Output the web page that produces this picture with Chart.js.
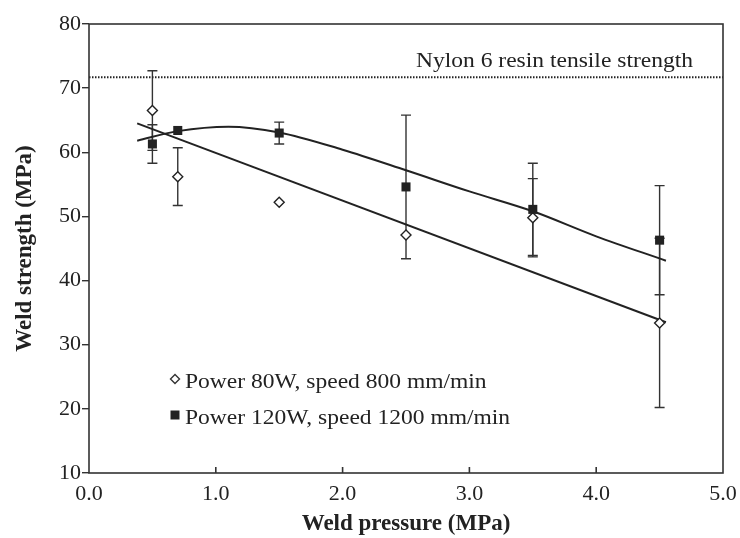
<!DOCTYPE html>
<html>
<head>
<meta charset="utf-8">
<script src="https://cdn.jsdelivr.net/npm/chart.js@4.4.0/dist/chart.umd.min.js"></script>
<style>
  html, body { margin: 0; padding: 0; background: #fff; }
  #wrap { width: 740px; height: 538px; }
</style>
</head>
<body>
<div id="wrap"><canvas id="weldChart" width="740" height="538"></canvas></div>
<script>
// data
const pressure = [0.5, 0.7, 1.5, 2.5, 3.5, 4.5];
const strength80 = [66.5, 56.2, 52.2, 47.1, 49.8, 33.4];
const err80 = [6.2, 4.5, 0, 0, 6.1, 13.2];
const strength120 = [61.3, 63.4, 63.0, 54.6, 51.1, 46.3];
const err120 = [3.0, 0, 1.7, 11.2, 7.2, 8.5];

// fitted trend lines
const fit80X = [0.38, 4.55];
const fit80Y = [64.5, 33.5];
const fit120X = [0.38, 0.7, 1.1, 1.5, 2.0, 2.5, 3.0, 3.5, 4.0, 4.55];
const fit120Y = [61.8, 63.3, 64.0, 63.1, 60.4, 57.2, 53.9, 50.8, 46.9, 43.1];

const nylonX = [0, 5];
const nylonStrength = 71.7;

const legendLabels = ['Power 80W, speed 800 mm/min', 'Power 120W, speed 1200 mm/min'];
const nylonLabel = 'Nylon 6 resin tensile strength';

const xTicks = [0, 1, 2, 3, 4, 5];
const yTicks = [10, 20, 30, 40, 50, 60, 70, 80];

const ink = '#222';
const serif = "'Liberation Serif', 'Times New Roman', serif";

function toPoints(xs, ys) {
    return xs.map((x, i) => ({ x: x, y: ys[i] }));
}

// slightly wide serif text, like the printed figure
function wideText(ctx, text, x, y, align) {
    ctx.save();
    ctx.translate(x, y);
    ctx.scale(1.12, 1);
    ctx.textAlign = align;
    ctx.fillText(text, 0, 0);
    ctx.restore();
}

// error bars, frame, inner x ticks, label text and legend
const extrasPlugin = {
    id: 'extras',
    beforeDatasetsDraw(chart) {
        const ctx = chart.ctx;
        const xs = chart.scales.x, ys = chart.scales.y;
        ctx.save();
        ctx.strokeStyle = '#333';
        ctx.lineWidth = 1.4;
        const drawBars = (vals, errs) => {
            vals.forEach((v, i) => {
                if (!errs[i]) return;
                const px = xs.getPixelForValue(pressure[i]);
                const top = ys.getPixelForValue(v + errs[i]);
                const bot = ys.getPixelForValue(v - errs[i]);
                ctx.beginPath();
                ctx.moveTo(px, top); ctx.lineTo(px, bot);
                ctx.moveTo(px - 5, top); ctx.lineTo(px + 5, top);
                ctx.moveTo(px - 5, bot); ctx.lineTo(px + 5, bot);
                ctx.stroke();
            });
        };
        drawBars(strength80, err80);
        drawBars(strength120, err120);
        ctx.restore();
    },
    afterDraw(chart) {
        const ctx = chart.ctx;
        const a = chart.chartArea;
        const xs = chart.scales.x;
        ctx.save();
        ctx.strokeStyle = '#333';
        ctx.lineWidth = 1.6;
        ctx.strokeRect(a.left, a.top, a.right - a.left, a.bottom - a.top);
        ctx.beginPath();
        xTicks.slice(1, -1).forEach(t => {
            const px = xs.getPixelForValue(t);
            ctx.moveTo(px, a.bottom);
            ctx.lineTo(px, a.bottom - 6);
        });
        ctx.stroke();

        ctx.fillStyle = ink;
        ctx.font = '21px ' + serif;
        ctx.textBaseline = 'alphabetic';
        wideText(ctx, nylonLabel, 693, 67, 'right');

        // legend
        const lx = 175, ly = [379, 415];
        ctx.lineWidth = 1.4;
        ctx.fillStyle = '#fff';
        ctx.beginPath();
        ctx.moveTo(lx, ly[0] - 4.5); ctx.lineTo(lx + 4.5, ly[0]);
        ctx.lineTo(lx, ly[0] + 4.5); ctx.lineTo(lx - 4.5, ly[0]);
        ctx.closePath();
        ctx.fill(); ctx.stroke();
        ctx.fillStyle = ink;
        ctx.fillRect(lx - 4.5, ly[1] - 4.5, 9, 9);
        wideText(ctx, legendLabels[0], lx + 10, ly[0] + 9, 'left');
        wideText(ctx, legendLabels[1], lx + 10, ly[1] + 9, 'left');
        ctx.restore();
    }
};

function renderChart() {
    const ctx = document.getElementById('weldChart').getContext('2d');
    new Chart(ctx, {
        type: 'scatter',
        data: {
            datasets: [
                {
                    label: 'nylon',
                    data: toPoints(nylonX, nylonX.map(() => nylonStrength)),
                    showLine: true,
                    borderColor: ink,
                    borderWidth: 2,
                    borderDash: [1.5, 1.5],
                    pointRadius: 0,
                    order: 5
                },
                {
                    label: 'fit 80W',
                    data: toPoints(fit80X, fit80Y),
                    showLine: true,
                    borderColor: ink,
                    borderWidth: 2,
                    pointRadius: 0,
                    order: 4
                },
                {
                    label: 'fit 120W',
                    data: toPoints(fit120X, fit120Y),
                    showLine: true,
                    borderColor: ink,
                    borderWidth: 2,
                    pointRadius: 0,
                    cubicInterpolationMode: 'monotone',
                    order: 3
                },
                {
                    label: legendLabels[0],
                    data: toPoints(pressure, strength80),
                    pointStyle: 'rectRot',
                    pointRadius: 5,
                    backgroundColor: '#fff',
                    borderColor: ink,
                    borderWidth: 1.4,
                    order: 2
                },
                {
                    label: legendLabels[1],
                    data: toPoints(pressure, strength120),
                    pointStyle: 'rect',
                    pointRadius: 6.4,
                    backgroundColor: ink,
                    borderColor: ink,
                    borderWidth: 0,
                    order: 1
                }
            ]
        },
        options: {
            responsive: false,
            animation: false,
            layout: { padding: { top: 24, right: 17, left: 0, bottom: 0 } },
            scales: {
                x: {
                    type: 'linear',
                    min: 0,
                    max: 5,
                    afterFit: s => { s.height = 65; s.paddingLeft = 0; s.paddingRight = 0; },
                    afterBuildTicks: s => { s.ticks = xTicks.map(v => ({ value: v })); },
                    grid: { display: false, drawTicks: false },
                    border: { display: false },
                    ticks: {
                        color: ink,
                        padding: 8,
                        maxRotation: 0,
                        font: { family: serif, size: 22 },
                        callback: v => v.toFixed(1)
                    },
                    title: {
                        display: true,
                        text: 'Weld pressure (MPa)',
                        color: ink,
                        font: { family: serif, size: 23, weight: 'bold', lineHeight: 1.2 },
                        padding: { top: 0, bottom: 0 }
                    }
                },
                y: {
                    min: 10,
                    max: 80,
                    afterFit: s => { s.width = 89; s.paddingTop = 0; s.paddingBottom = 0; },
                    afterBuildTicks: s => { s.ticks = yTicks.map(v => ({ value: v })); },
                    grid: { drawOnChartArea: false, tickLength: 7, color: '#333', lineWidth: 1.4 },
                    border: { display: false },
                    ticks: {
                        color: ink,
                        padding: 1,
                        font: { family: serif, size: 22 }
                    },
                    title: {
                        display: true,
                        text: 'Weld strength (MPa)',
                        color: ink,
                        font: { family: serif, size: 23, weight: 'bold', lineHeight: 1.2 },
                        padding: { top: 11, bottom: 0 }
                    }
                }
            },
            plugins: {
                legend: { display: false },
                tooltip: { enabled: false }
            }
        },
        plugins: [extrasPlugin]
    });
}

document.addEventListener('DOMContentLoaded', renderChart);
</script>
</body>
</html>
